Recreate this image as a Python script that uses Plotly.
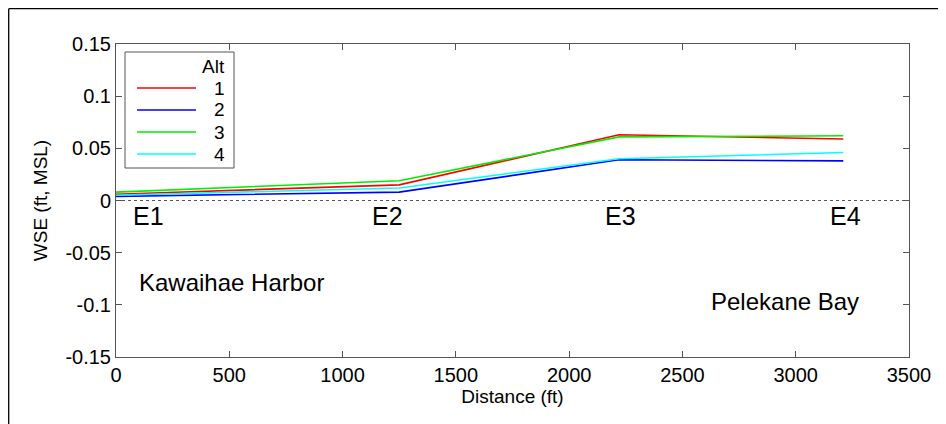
import plotly.graph_objects as go

# ---- data ----
distance_ft = [0, 1250, 2220, 3210]
alt_names = ["1", "2", "3", "4"]
alt_colors = ["#ff0000", "#0000ff", "#00ee00", "#00ffff"]
wse_alt1 = [0.006, 0.015, 0.063, 0.059]
wse_alt2 = [0.004, 0.008, 0.039, 0.038]
wse_alt3 = [0.008, 0.019, 0.061, 0.062]
wse_alt4 = [0.005, 0.012, 0.040, 0.046]
series = [wse_alt1, wse_alt2, wse_alt3, wse_alt4]

station_labels = ["E1", "E2", "E3", "E4"]
station_label_x = [145, 1200, 2225, 3220]
station_label_y = -0.015

x_ticks = [0, 500, 1000, 1500, 2000, 2500, 3000, 3500]
y_ticks = [-0.15, -0.1, -0.05, 0, 0.05, 0.1, 0.15]
y_ticklabels = ["-0.15", "-0.1", "-0.05", "0", "0.05", "0.1", "0.15"]

FONT = "Liberation Sans, Arial, Helvetica, sans-serif"

fig = go.Figure()

# zero reference line
fig.add_trace(go.Scatter(x=[0, 3500], y=[0, 0], mode="lines",
                         line=dict(color="#555555", width=1, dash="dot"),
                         showlegend=False, hoverinfo="skip"))

for name, color, vals in zip(alt_names, alt_colors, series):
    fig.add_trace(go.Scatter(x=distance_ft, y=vals, mode="lines", name=name,
                             line=dict(color=color, width=1.6),
                             showlegend=False))

annotations = []
for lab, lx in zip(station_labels, station_label_x):
    annotations.append(dict(x=lx, y=station_label_y, xref="x", yref="y", text=lab,
                            showarrow=False, font=dict(size=25, color="black", family=FONT),
                            xanchor="center", yanchor="middle"))
annotations.append(dict(x=93, y=-0.079, xref="x", yref="y", text="Kawaihae Harbor",
                        showarrow=False, font=dict(size=24, color="black", family=FONT),
                        xanchor="left", yanchor="middle"))
annotations.append(dict(x=3290, y=-0.097, xref="x", yref="y", text="Pelekane Bay",
                        showarrow=False, font=dict(size=24, color="black", family=FONT),
                        xanchor="right", yanchor="middle"))

# ---- manual legend (paper coordinates; plot area spans page px 116..909 x 44..357) ----
W, H = 793.0, 313.0
def px(x):
    return (x - 116) / W
def py(y):
    return (357 - y) / H

shapes = []
shapes.append(dict(type="rect", xref="paper", yref="paper",
                   x0=px(125), x1=px(234), y0=py(168), y1=py(52),
                   line=dict(color="#555555", width=1), fillcolor="white", layer="above"))
annotations.append(dict(x=px(227), y=py(67), xref="paper", yref="paper", text="Alt",
                        showarrow=False, xanchor="right", yanchor="middle",
                        font=dict(size=19, color="black", family=FONT)))
for i, (name, color) in enumerate(zip(alt_names, alt_colors)):
    yy = 88 + 22 * i
    shapes.append(dict(type="line", xref="paper", yref="paper",
                       x0=px(137), x1=px(196), y0=py(yy), y1=py(yy),
                       line=dict(color=color, width=1.6), layer="above"))
    annotations.append(dict(x=px(227), y=py(yy), xref="paper", yref="paper", text=name,
                            showarrow=False, xanchor="right", yanchor="middle",
                            font=dict(size=19, color="black", family=FONT)))

# outer figure frame (top and left edges)
shapes.append(dict(type="line", xref="paper", yref="paper",
                   x0=px(8.7), x1=px(960), y0=py(8.7), y1=py(8.7),
                   line=dict(color="black", width=1.3)))
shapes.append(dict(type="line", xref="paper", yref="paper",
                   x0=px(8.7), x1=px(8.7), y0=py(8.7), y1=py(440),
                   line=dict(color="black", width=1.3)))

axis_common = dict(showgrid=False, zeroline=False, showline=True, linecolor="#555555",
                   linewidth=1, mirror="ticks", ticks="inside", ticklen=6,
                   tickcolor="#555555", tickwidth=1, automargin=False,
                   tickfont=dict(size=20, color="black", family=FONT))

# page body has an 8px margin, so the figure is 8px smaller and margins shifted
fig.update_layout(
    width=938, height=416,
    margin=dict(l=108, r=37, t=36, b=67),
    paper_bgcolor="white", plot_bgcolor="white",
    showlegend=False,
    font=dict(family=FONT, color="black"),
    xaxis=dict(range=[0, 3500], tickvals=x_ticks,
               title=dict(text="Distance (ft)", font=dict(size=19, family=FONT), standoff=2),
               **axis_common),
    yaxis=dict(range=[-0.15, 0.15], tickvals=y_ticks, ticktext=y_ticklabels,
               title=dict(text="WSE (ft, MSL)", font=dict(size=19, family=FONT), standoff=12),
               **axis_common),
    annotations=annotations,
    shapes=shapes,
)

fig.write_html("out.html")
